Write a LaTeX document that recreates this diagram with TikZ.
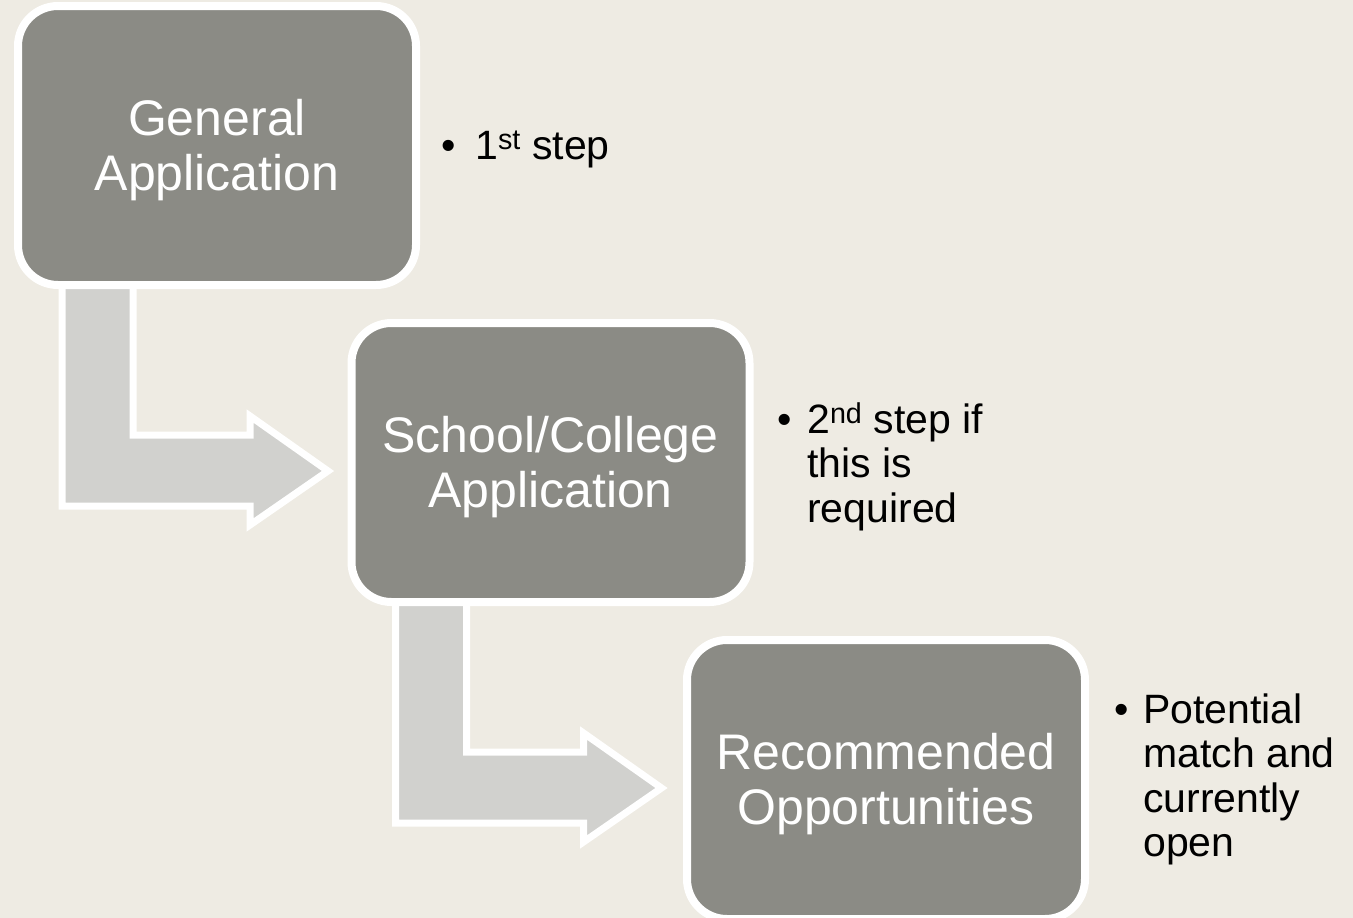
\documentclass[tikz,border=0pt]{standalone}
\usepackage{fontspec}
\setmainfont{Liberation Sans}
\usetikzlibrary{calc}
\definecolor{bgcol}{HTML}{EEEBE3}
\definecolor{boxgray}{HTML}{8B8B85}
\definecolor{arrowgray}{HTML}{D1D1CE}
\pgfdeclarelayer{bglayer}
\pgfdeclarelayer{arrowlayer}
\pgfsetlayers{bglayer,arrowlayer,main}
\begin{document}
\begin{tikzpicture}[x=1pt,y=-1pt,
  stepbox/.style={draw=white, line width=8pt, fill=boxgray, rounded corners=40pt,
    minimum width=398pt, minimum height=279pt, inner sep=0pt},
  boxlabel/.style={text=white, align=center, inner sep=0pt, yshift=-5pt,
    font=\fontsize{50}{55}\selectfont},
  bendarrow/.style={draw=white, line width=7pt, fill=arrowgray, line join=miter},
  bullettext/.style={anchor=base west, inner sep=0pt,
    font=\fontsize{41}{44.5}\selectfont},
  bulletmark/.style={anchor=base, inner sep=0pt, font=\fontsize{41}{44.5}\selectfont}]
\begin{pgfonlayer}{bglayer}
\fill[bgcol] (0,0) rectangle (1353,918);
\end{pgfonlayer}
\useasboundingbox (0,0) rectangle (1353,918);

\node[stepbox] (b1) at (217,145.5) {};
\node[stepbox] (b2) at (550.5,462.5) {};
\node[stepbox] (b3) at (886,779.5) {};
\node[boxlabel] (l1) at (b1.center) {General\\Application};
\node[boxlabel] (l2) at (b2.center) {School/College\\Application};
\node[boxlabel] (l3) at (b3.center) {Recommended\\Opportunities};

\begin{pgfonlayer}{arrowlayer}
\foreach \src in {b1,b2}{
  \draw[bendarrow]
    ($(\src.south west)+(48,-20)$) -- ($(\src.south west)+(48,217)$)
    -- ($(\src.south west)+(236,217)$) -- ($(\src.south west)+(236,236)$)
    -- ($(\src.south west)+(314,182)$) -- ($(\src.south west)+(236,127)$)
    -- ($(\src.south west)+(236,146)$) -- ($(\src.south west)+(119,146)$)
    -- ($(\src.south west)+(119,-20)$);
}
\end{pgfonlayer}

\node[bulletmark] (m1) at (449,159) {\textbullet};
\node[bullettext] (t1) at (475,159) {1\textsuperscript{st} step};
\node[bulletmark] (m2) at (785,433) {\textbullet};
\node[bullettext] (t2) at (807,433) {\vtop{\hbox{2\textsuperscript{nd} step if}\hbox{this is}\hbox{required}}};
\node[bulletmark] (m3) at (1122,723) {\textbullet};
\node[bullettext] (t3) at (1143,723) {\vtop{\hbox{Potential}\hbox{match and}\hbox{currently}\hbox{open}}};
\end{tikzpicture}
\end{document}
